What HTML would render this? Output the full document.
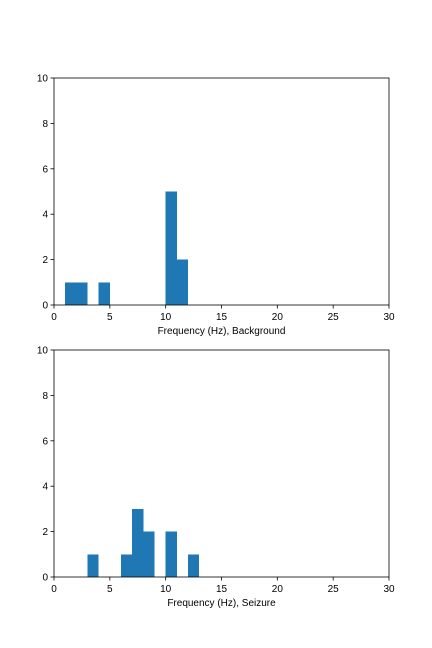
<!DOCTYPE html>
<html><head><meta charset="utf-8"><style>body{margin:0;background:#fff}svg{display:block}text{font-family:"Liberation Sans",sans-serif;font-size:10px;fill:#000}</style></head>
<body>
<svg id="c" width="432" height="648"></svg>
<script>
const topBinStarts=[1,2,4,10,11];
const topCounts=[1,1,1,5,2];
const botBinStarts=[3,6,7,8,10,12];
const botCounts=[1,1,3,2,2,1];
const binWidth=1;
const xTicks=[0,5,10,15,20,25,30];
const yTicks=[0,2,4,6,8,10];
const NS="http://www.w3.org/2000/svg";
const svg=document.getElementById('c');
function mk(t,a,p){const e=document.createElementNS(NS,t);for(const k in a)e.setAttribute(k,a[k]);(p||svg).appendChild(e);return e;}
function panel(y0,y1,starts,counts,label,name){
  const x0=54,x1=389;
  const g=mk('g',{});
  
  
  const xs=v=>x0+(v/30)*(x1-x0), ys=v=>y1-(v/10)*(y1-y0);
  starts.forEach((s,i)=>{const r=mk('rect',{x:xs(s),y:ys(counts[i]),width:xs(s+binWidth)-xs(s),height:y1-ys(counts[i]),fill:'#1f77b4','shape-rendering':'crispEdges'},g);
    
    });
  const f=mk('rect',{x:x0,y:y0,width:x1-x0,height:y1-y0,fill:'none',stroke:'#000','stroke-width':0.8},g);
  
  
  xTicks.forEach(t=>{mk('line',{x1:xs(t),x2:xs(t),y1:y1,y2:y1+3.5,stroke:'#000','stroke-width':0.8},g);
    const tx=mk('text',{x:xs(t),y:y1+15,'text-anchor':'middle'},g);tx.textContent=t;
    
    });
  yTicks.forEach(t=>{mk('line',{x1:x0-3.5,x2:x0,y1:ys(t),y2:ys(t),stroke:'#000','stroke-width':0.8},g);
    const tx=mk('text',{x:x0-6,y:ys(t)+3.5,'text-anchor':'end'},g);tx.textContent=t;
    
    });
  const l=mk('text',{x:(x0+x1)/2,y:y1+29,'text-anchor':'middle'},g);l.textContent=label;
  
  
}
panel(78,305,topBinStarts,topCounts,'Frequency (Hz), Background','background-histogram');
panel(350,577,botBinStarts,botCounts,'Frequency (Hz), Seizure','seizure-histogram');
</script>
</body></html>
